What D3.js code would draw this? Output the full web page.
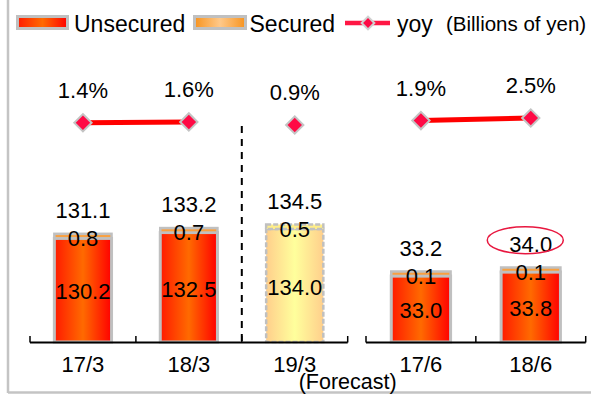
<!DOCTYPE html>
<html><head><meta charset="utf-8">
<script src="https://cdn.jsdelivr.net/npm/d3@7"></script>
<style>html,body{margin:0;padding:0;background:#fff;}svg{display:block;font-family:"Liberation Sans",Arial,sans-serif;}</style>
</head><body><svg id="c" width="591" height="395"></svg>
<script>
// ---- data ----
const annualCats = ["17/3", "18/3", "19/3"];
const quarterCats = ["17/6", "18/6"];
const unsecured = [130.2, 132.5, 134.0, 33.0, 33.8];
const secured = [0.8, 0.7, 0.5, 0.1, 0.1];
const totals = [131.1, 133.2, 134.5, 33.2, 34.0];
const yoy = [1.4, 1.6, 0.9, 1.9, 2.5];
const forecastFlags = [false, false, true, false, false];
const yoyLinks = [[0, 1], [3, 4]];
const legendLabels = ["Unsecured", "Secured", "yoy"];
const unitLabel = "(Billions of yen)";
const forecastLabel = "(Forecast)";
const highlightIndex = 4;

const svg = d3.select("#c");
const defs = svg.append("defs");
function grad(id, stops) {
  const g = defs.append("linearGradient").attr("id", id).attr("x1", "0%").attr("x2", "100%").attr("y1", "0%").attr("y2", "0%");
  stops.forEach(s => g.append("stop").attr("offset", s[0]).attr("stop-color", s[1]));
}
grad("gUnsec", [["0%", "#ff1a00"], ["50%", "#ff6a00"], ["100%", "#ff0000"]]);
grad("gSec", [["0%", "#f7931e"], ["50%", "#ffc98a"], ["100%", "#f7931e"]]);
grad("gFore", [["0%", "#ffcf8c"], ["50%", "#ffff9c"], ["100%", "#ffcf8c"]]);

// frame
svg.append("line").attr("x1", 8).attr("x2", 8).attr("y1", 0).attr("y2", 393).attr("stroke", "#c4c4c4").attr("stroke-width", 2.5);
svg.append("line").attr("x1", 8).attr("x2", 591).attr("y1", 392.5).attr("y2", 392.5).attr("stroke", "#c4c4c4").attr("stroke-width", 2.5);

// scales
const xA = d3.scaleBand().domain(annualCats).range([30, 347.7]).paddingInner(0.46).paddingOuter(0.23);
const xQ = d3.scaleBand().domain(quarterCats).range([366, 585.7]).paddingInner(0.46).paddingOuter(0.23);
const yA = d3.scaleLinear().domain([91.6, 134.5]).range([342, 224.5]);
const yQ = d3.scaleLinear().domain([19.1, 34.0]).range([342, 267.5]);
const yY = d3.scaleLinear().domain([0, 10]).range([128.9, 85.15]);

const cats = annualCats.concat(quarterCats);
const items = cats.map((c, i) => {
  const annual = i < annualCats.length;
  const xs = annual ? xA : xQ, ys = annual ? yA : yQ;
  return { c, i, xs, ys, x: xs(c), w: xs.bandwidth(), cx: xs(c) + xs.bandwidth() / 2,
    unsec: unsecured[i], sec: secured[i], total: totals[i], yoy: yoy[i], fc: forecastFlags[i] };
});

// dashed divider at boundary between 18/3 and 19/3
const stepA = xA.step();
const divX = xA.range()[0] + stepA * 2;
svg.append("line").attr("x1", divX).attr("x2", divX).attr("y1", yY(yoy[2]) + 1).attr("y2", 342)
  .attr("stroke", "#000").attr("stroke-width", 2).attr("stroke-dasharray", "7,6");

// bars
const baseY = 342;
items.forEach(d => {
  const top = d.ys(d.total);
  const secH = Math.max(d.ys(d.unsec) - top, 4.5);
  const g = svg.append("g");
  g.append("rect").attr("x", d.x).attr("y", top + secH).attr("width", d.w).attr("height", baseY - top - secH)
    .attr("fill", d.fc ? "url(#gFore)" : "url(#gUnsec)").attr("stroke", "#c0c0c0").attr("stroke-width", d.fc ? 2.5 : 3)
    .attr("stroke-dasharray", d.fc ? "5,2" : null);
  g.append("rect").attr("x", d.x).attr("y", top).attr("width", d.w).attr("height", secH)
    .attr("fill", d.fc ? "#ffee88" : "#f9a040").attr("stroke", "#c0c0c0").attr("stroke-width", d.fc ? 2.5 : 2.5)
    .attr("stroke-dasharray", d.fc ? "5,2" : null);
  // labels
  g.append("text").attr("x", d.cx).attr("y", top - 16).attr("text-anchor", "middle").attr("font-size", 22).text(d.total.toFixed(1));
  g.append("text").attr("x", d.cx).attr("y", top + secH / 2 + 2 + 7.8).attr("text-anchor", "middle").attr("font-size", 22).text(d.sec.toFixed(1));
  g.append("text").attr("x", d.cx).attr("y", (top + secH + baseY) / 2 + 1.5 + 7.8).attr("text-anchor", "middle").attr("font-size", 22).text(d.unsec.toFixed(1));
  if (d.i === highlightIndex) {
    g.append("ellipse").attr("cx", d.cx - 5.5).attr("cy", top - 16 - 7.8 - 3.5).attr("rx", 38).attr("ry", 13.5)
      .attr("fill", "none").attr("stroke", "#e8173f").attr("stroke-width", 1.5);
  }
});

// axes
function drawAxis(xs) {
  const r = xs.range(), st = xs.step();
  const g = svg.append("g");
  g.append("line").attr("x1", r[0]).attr("x2", r[1]).attr("y1", 342.5).attr("y2", 342.5).attr("stroke", "#000").attr("stroke-width", 2.2);
  d3.range(xs.domain().length + 1).forEach(k => {
    const tx = r[0] + k * st;
    g.append("line").attr("x1", tx).attr("x2", tx).attr("y1", 342.5).attr("y2", 336).attr("stroke", "#000").attr("stroke-width", 1.5);
  });
  xs.domain().forEach(c => {
    g.append("text").attr("x", xs(c) + xs.bandwidth() / 2).attr("y", 371.7).attr("text-anchor", "middle").attr("font-size", 22).text(c);
  });
}
drawAxis(xA); drawAxis(xQ);
svg.append("text").attr("x", xA.range()[0] + stepA * 3).attr("y", 388.5).attr("text-anchor", "middle").attr("font-size", 21.5).text(forecastLabel);

// yoy lines + diamonds
const diamond = d3.symbol().type(d3.symbolSquare).size(150);
yoyLinks.forEach(([a, b]) => {
  svg.append("line").attr("x1", items[a].cx).attr("x2", items[b].cx).attr("y1", yY(items[a].yoy)).attr("y2", yY(items[b].yoy))
    .attr("stroke", "#ff0000").attr("stroke-width", 5);
});
items.forEach(d => {
  const yy = yY(d.yoy);
  svg.append("path").attr("d", diamond()).attr("transform", `translate(${d.cx},${yy}) rotate(45)`)
    .attr("fill", "#ff0a45").attr("stroke", "#c4c4c4").attr("stroke-width", 2);
  svg.append("text").attr("x", d.cx).attr("y", yy - 25).attr("text-anchor", "middle").attr("font-size", 22).text(d.yoy.toFixed(1) + "%");
});

// legend
const lg = svg.append("g");
lg.append("rect").attr("x", 17.5).attr("y", 16.5).attr("width", 50).attr("height", 12).attr("fill", "url(#gUnsec)").attr("stroke", "#c0c0c0").attr("stroke-width", 3);
lg.append("text").attr("x", 74).attr("y", 31.5).attr("font-size", 23).text(legendLabels[0]);
lg.append("rect").attr("x", 194.5).attr("y", 16.5).attr("width", 51).attr("height", 12).attr("fill", "url(#gSec)").attr("stroke", "#c0c0c0").attr("stroke-width", 3);
lg.append("text").attr("x", 249.5).attr("y", 31.5).attr("font-size", 23).text(legendLabels[1]);
lg.append("line").attr("x1", 345).attr("x2", 390).attr("y1", 23).attr("y2", 23).attr("stroke", "#ff1744").attr("stroke-width", 4.5);
lg.append("path").attr("d", d3.symbol().type(d3.symbolSquare).size(80)()).attr("transform", "translate(368,23) rotate(45)")
  .attr("fill", "#ff0a45").attr("stroke", "#d0d0d0").attr("stroke-width", 2);
lg.append("text").attr("x", 397).attr("y", 31.5).attr("font-size", 23).text(legendLabels[2]);
lg.append("text").attr("x", 446).attr("y", 30.5).attr("font-size", 20.5).text(unitLabel);
</script></body></html>
